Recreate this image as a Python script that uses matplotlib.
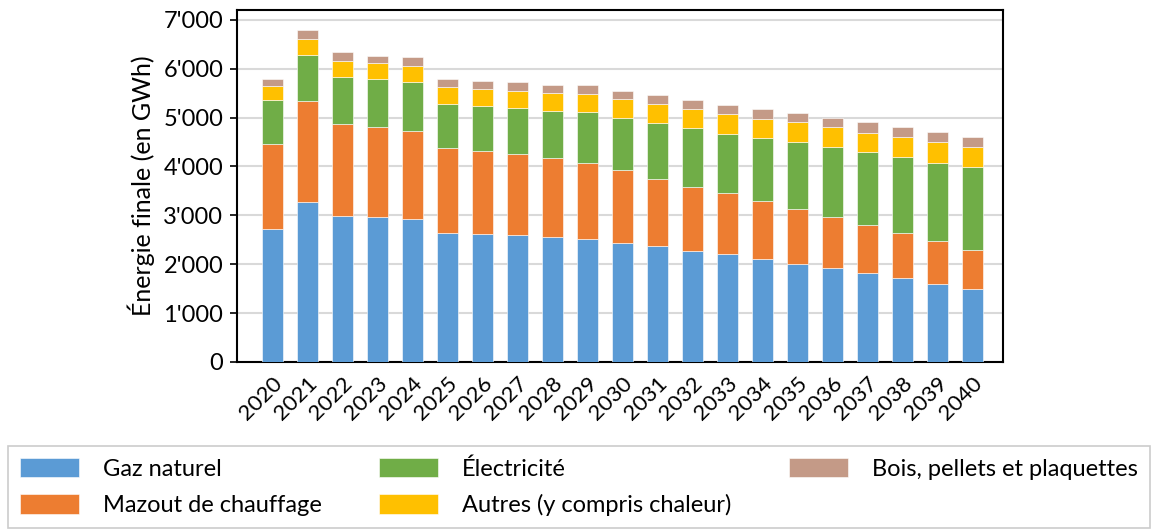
import matplotlib.pyplot as plt
import numpy as np
from matplotlib.ticker import FuncFormatter

plt.rcParams["font.family"] = ["Lato", "DejaVu Sans"]

years = [str(y) for y in range(2020, 2041)]

gaz = [2720, 3280, 2990, 2960, 2920, 2640, 2615, 2590, 2548, 2520, 2440,
       2363, 2268, 2200, 2111, 2015, 1933, 1817, 1721, 1605, 1496]
mazout = [1740, 2050, 1885, 1856, 1800, 1730, 1710, 1673, 1632, 1544, 1482,
          1387, 1311, 1250, 1181, 1107, 1031, 977, 909, 861, 799]
elec = [895, 950, 956, 970, 1004, 908, 908, 936, 963, 1045, 1079,
        1141, 1202, 1223, 1298, 1379, 1442, 1509, 1564, 1612, 1701]
autres = [287, 335, 335, 321, 341, 355, 342, 355, 362, 376, 376,
          389, 397, 396, 390, 403, 403, 390, 410, 423, 410]
bois = [144, 184, 171, 163, 178, 164, 177, 178, 171, 178, 177,
        184, 184, 198, 198, 185, 191, 211, 205, 205, 205]

series = [
    ("Gaz naturel", gaz, "#5B9BD5"),
    ("Mazout de chauffage", mazout, "#ED7D31"),
    ("Électricité", elec, "#70AD47"),
    ("Autres (y compris chaleur)", autres, "#FFC000"),
    ("Bois, pellets et plaquettes", bois, "#C49A87"),
]

fig = plt.figure(figsize=(11.53, 5.30), dpi=100)
ax = fig.add_axes([0.2056, 0.317, 0.664, 0.664])

x = np.arange(len(years))
bottom = np.zeros(len(years))
for name, vals, color in series:
    vals = np.asarray(vals, dtype=float)
    ax.bar(x, vals, 0.6, bottom=bottom, color=color, label=name,
           edgecolor="white", linewidth=0.4, zorder=3)
    bottom += vals

ax.set_xlim(-1.01, 20.87)
ax.set_ylim(0, 7200)
ax.set_yticks(range(0, 7001, 1000))
ax.yaxis.set_major_formatter(FuncFormatter(lambda v, p: f"{v:,.0f}".replace(",", "'")))
ax.set_xticks(x)
ax.set_xticklabels(years, rotation=45, ha="right", rotation_mode="anchor")
ax.tick_params(axis="y", labelsize=17, length=5, width=1.2, pad=5)
ax.tick_params(axis="x", labelsize=16, length=0, pad=8)
ax.grid(axis="y", color="#D9D9D9", linewidth=1.5, zorder=0)
for s in ax.spines.values():
    s.set_linewidth(1.5)
    s.set_color("black")
ax.set_ylabel("Énergie finale (en GWh)", fontsize=18, labelpad=6)

handles, labels = ax.get_legend_handles_labels()
leg = fig.legend(handles, labels, loc="lower left", ncol=3,
                 bbox_to_anchor=(0.007, 0.004, 0.99, 0.15), mode="expand",
                 fontsize=17, frameon=True, fancybox=False,
                 edgecolor="#BFBFBF", handlelength=2.5, handleheight=0.9,
                 handletextpad=1.0, columnspacing=2.0, borderaxespad=0.0,
                 labelspacing=0.6, borderpad=0.5)
leg.get_frame().set_linewidth(1.2)

fig.savefig("out.png", dpi=100)
plt.close(fig)
